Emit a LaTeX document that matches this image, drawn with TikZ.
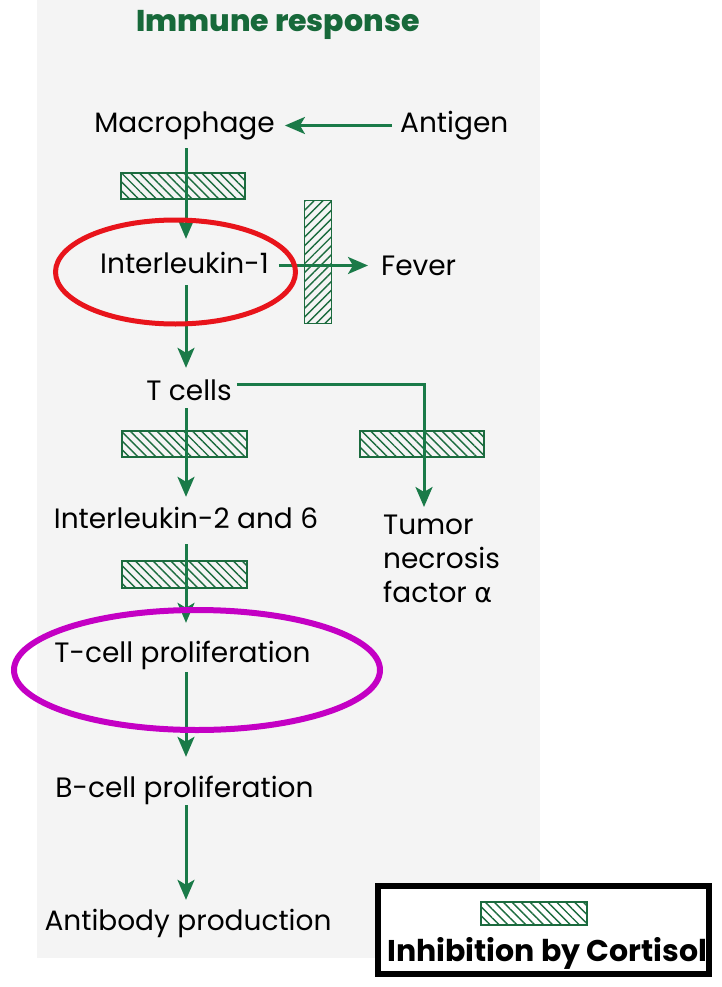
\documentclass[tikz,border=0pt]{standalone}
\usepackage{fontspec}
\setmainfont{Poppins}
\newfontfamily\titlefont{Poppins ExtraBold}
\newfontfamily\greekfont{DejaVu Sans}
\usetikzlibrary{arrows.meta,patterns.meta,shadows,shapes.geometric}
\definecolor{arrgreen}{HTML}{1A7A48}
\definecolor{titlegreen}{HTML}{17693A}
\definecolor{hatchgreen}{HTML}{1B6B3E}
\definecolor{bggray}{HTML}{F4F4F4}
\definecolor{ringred}{HTML}{E8141B}
\definecolor{ringmag}{HTML}{C400C4}
\begin{document}
\begin{tikzpicture}[x=1pt,y=-1pt,
  lbl/.style={anchor=base,inner sep=0pt,text height=23pt,text depth=8pt,font=\fontsize{28}{33}\selectfont},
  arr/.style={draw=arrgreen,line width=3pt,-{Stealth[length=20pt,width=17pt,inset=5pt]}},
  hbox/.style={draw=hatchgreen,line width=1.6pt,inner sep=0pt,
    pattern={Lines[angle=-45,distance=6.3pt,line width=1.4pt]},pattern color=hatchgreen},
  vbox/.style={hbox,pattern={Lines[angle=45,distance=6.3pt,line width=1.4pt]}},
  ring/.style={draw,ellipse,line width=5pt,inner sep=0pt}
]
\useasboundingbox (0,0) rectangle (721,987);
\fill[bggray] (37,0) rectangle (540,958);

% hatched inhibition boxes
\node[hbox,minimum width=124pt,minimum height=26pt] (hA) at (183,186) {};
\node[vbox,minimum width=27pt,minimum height=123pt] (hB) at (318,262) {};
\node[hbox,minimum width=125pt,minimum height=26pt] (hC) at (184.5,444) {};
\node[hbox,minimum width=124pt,minimum height=26pt] (hD) at (422,444) {};
\node[hbox,minimum width=125pt,minimum height=27pt] (hE) at (184.5,574.5) {};

% title and labels
\node[anchor=base,inner sep=0pt,text=titlegreen,font=\fontsize{30}{35}\titlefont] (title) at (278,32) {Immune response};
\node[lbl] (mac) at (184.5,133) {Macrophage};
\node[lbl,anchor=base west] (ant) at (400,133) {Antigen};
\node[lbl] (il1) at (184.5,273) {Interleukin-1};
\node[lbl,anchor=base west] (fev) at (381,275) {Fever};
\node[lbl] (tc) at (189,400) {T cells};
\node[lbl] (il26) at (186,528) {Interleukin-2 and 6};
\node[anchor=north west,align=left,inner sep=0pt,font=\fontsize{28}{34}\selectfont] (tnf) at (383,515) {Tumor\\necrosis\\factor {\greekfont\fontsize{27}{34}\selectfont α}};
\node[lbl] (tcp) at (182.5,662) {T-cell proliferation};
\node[lbl] (bcp) at (184.5,797) {B-cell proliferation};
\node[lbl] (ab) at (188,930) {Antibody production};
\coordinate (axis) at (186,0);

% connectors
\draw[arr] ([xshift=-8pt]ant.west) -- ([xshift=10pt]mac.east);
\draw[arr,shorten <=7pt,shorten >=11pt] (mac.south -| axis) -- (il1.north -| axis);
\draw[arr] ([xshift=10pt]il1.east) -- ([xshift=-13pt]fev.west |- il1.east);
\draw[arr,shorten <=4pt,shorten >=9pt] (il1.south -| axis) -- (tc.north -| axis);
\draw[arr,shorten >=8pt] (tc.south -| axis) -- (il26.north -| axis);
\draw[arr] ([xshift=5pt,yshift=8.5pt]tc.east) -| ([xshift=41pt,yshift=8pt]tnf.north west);
\draw[arr,shorten <=8pt,shorten >=16pt] (il26.south -| axis) -- (tcp.north -| axis);
\draw[arr,shorten <=2pt,shorten >=17pt] (tcp.south -| axis) -- (bcp.north -| axis);
\draw[arr,shorten >=7pt] (bcp.south -| axis) -- (ab.north -| axis);

% highlight rings
\node[ring,draw=ringred,minimum width=240pt,minimum height=104pt] (redring) at (175.5,272) {};
\node[ring,draw=ringmag,line width=6pt,minimum width=366pt,minimum height=120pt] (magring) at (197,670) {};

% legend
\node[draw=black,line width=4pt,fill=white,minimum width=329pt,minimum height=86pt,inner sep=0pt,
  drop shadow={shadow xshift=-2pt,shadow yshift=-3pt,fill=gray!60}] (leg) at (543.5,930) {};
\node[hbox,minimum width=106pt,minimum height=23pt] (hL) at (534,913.5) {};
\node[anchor=base west,inner sep=0pt,font=\fontsize{30}{35}\selectfont\bfseries] (legtxt) at (387,961) {Inhibition by Cortisol};
\draw[line width=4pt] (leg.north west) rectangle (leg.south east);
\end{tikzpicture}
\end{document}
